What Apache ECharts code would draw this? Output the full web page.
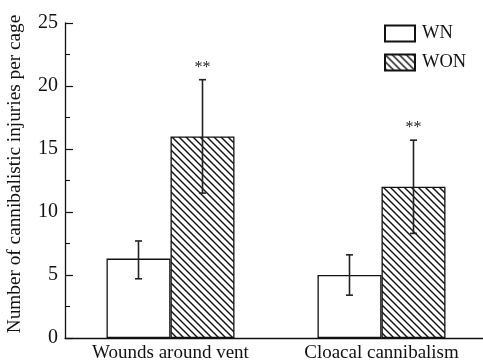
<!DOCTYPE html>
<html><head><meta charset="utf-8">
<script src="https://cdn.jsdelivr.net/npm/echarts@6/dist/echarts.min.js"></script>
<style>html,body{margin:0;padding:0;background:#fff}#c{width:483px;height:360px}</style>
</head><body><div id="c"></div>
<script>
const categories = ['Wounds around vent', 'Cloacal cannibalism'];
const seriesNames = ['WN', 'WON'];
const wnValues = [6.3, 5.0];
const wnErrLow = [4.7, 3.4];
const wnErrHigh = [7.7, 6.6];
const wonValues = [16.0, 12.0];
const wonErrLow = [11.5, 8.3];
const wonErrHigh = [20.5, 15.7];
const wonMarks = ['**', '**'];
const yTicks = [0, 5, 10, 15, 20, 25];

const FONT = 'Liberation Serif';
const BAR_W = 64;

function hatch() {
  const s = 7;
  const c = document.createElement('canvas');
  c.width = s; c.height = s;
  const g = c.getContext('2d');
  g.fillStyle = '#fff'; g.fillRect(0, 0, s, s);
  g.strokeStyle = '#111'; g.lineWidth = 1.4;
  for (let k = -1; k <= 1; k++) {
    g.beginPath();
    g.moveTo(-1 + k * s, -1);
    g.lineTo(s + 1 + k * s, s + 1);
    g.stroke();
  }
  return { image: c, repeat: 'repeat' };
}
const hatchFill = hatch();

const errData = [];
categories.forEach((c, i) => {
  errData.push([i, wnErrLow[i], wnErrHigh[i], -1, '']);
  errData.push([i, wonErrLow[i], wonErrHigh[i], 1, wonMarks[i]]);
});

const chart = echarts.init(document.getElementById('c'), null, { renderer: 'canvas' });
chart.setOption({
  animation: false,
  backgroundColor: '#fff',
  textStyle: { fontFamily: FONT },
  grid: { left: 65, top: 23, width: 422, bottom: 22, containLabel: false, outerBoundsMode: 'none' },
  legend: {
    orient: 'vertical', left: 379, top: 19, itemWidth: 30, itemHeight: 16, itemGap: 10,
    icon: 'rect',
    textStyle: { fontFamily: FONT, fontSize: 18.5, color: '#111', padding: [2, 0, 0, 2] },
    data: seriesNames
  },
  xAxis: {
    type: 'category', data: categories,
    axisLine: { lineStyle: { color: '#111', width: 1.3 } },
    axisTick: { show: false },
    axisLabel: { fontFamily: FONT, fontSize: 19, color: '#111', margin: 6 }
  },
  yAxis: {
    type: 'value', min: 0, max: 25, interval: 5,
    name: 'Number of cannibalistic injuries per cage',
    nameLocation: 'middle', nameGap: 41, nameRotate: 90,
    nameTextStyle: { fontFamily: FONT, fontSize: 19.3, color: '#111', padding: [0, 0, 0, 13] },
    axisLine: { show: true, lineStyle: { color: '#111', width: 1.3 } },
    axisTick: { show: true, inside: true, length: 8, lineStyle: { color: '#111', width: 1.2 } },
    minorTick: { show: true, splitNumber: 2, length: 5, lineStyle: { color: '#111', width: 1.1 } },
    splitLine: { show: false },
    axisLabel: { fontFamily: FONT, fontSize: 20, color: '#111', margin: 7,
      formatter: v => yTicks.includes(v) ? String(v) : '' }
  },
  series: [
    { name: 'WN', type: 'bar', data: wnValues, barWidth: BAR_W, barGap: '0%',
      itemStyle: { color: '#fff', borderColor: '#111', borderWidth: 1.3 } },
    { name: 'WON', type: 'bar', data: wonValues, barWidth: BAR_W, barGap: '0%',
      itemStyle: { color: hatchFill, borderColor: '#111', borderWidth: 1.3 } },
    { type: 'custom', data: errData, z: 10, silent: true,
      renderItem: (params, api) => {
        const cat = api.value(0);
        const side = api.value(3);
        const lo = api.coord([cat, api.value(1)]);
        const hi = api.coord([cat, api.value(2)]);
        const x = lo[0] + side * BAR_W / 2;
        const cap = 3.5;
        const st = { stroke: '#222', lineWidth: 1.6 };
        const children = [
          { type: 'line', shape: { x1: x, y1: lo[1], x2: x, y2: hi[1] }, style: st },
          { type: 'line', shape: { x1: x - cap, y1: lo[1], x2: x + cap, y2: lo[1] }, style: st },
          { type: 'line', shape: { x1: x - cap, y1: hi[1], x2: x + cap, y2: hi[1] }, style: st }
        ];
        const mark = api.value(4);
        if (mark) {
          children.push({ type: 'text', style: { text: mark, x: x, y: hi[1] - 4,
            textAlign: 'center', textVerticalAlign: 'bottom', font: '16px ' + FONT, fill: '#222' } });
        }
        return { type: 'group', children };
      }
    }
  ]
});
</script></body></html>
